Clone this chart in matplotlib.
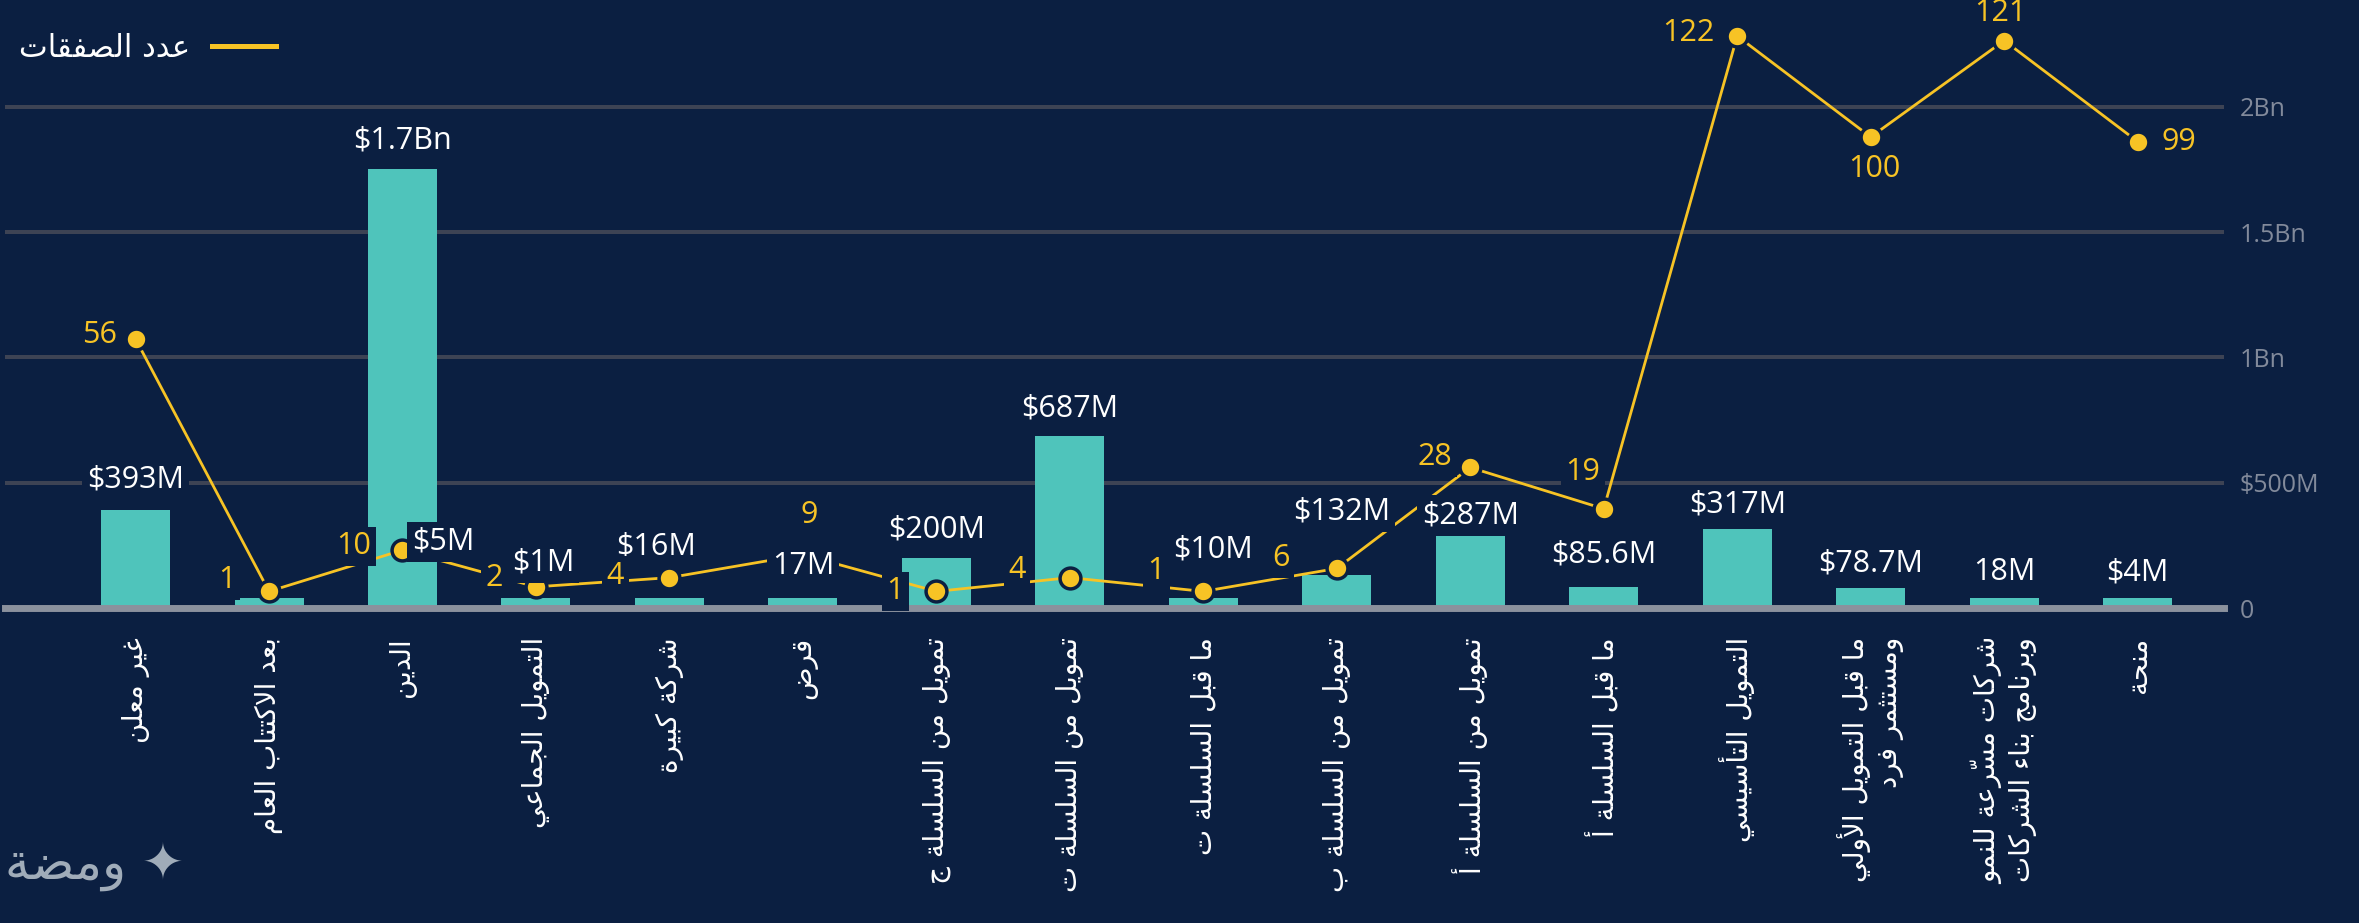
import numpy as np
import matplotlib.pyplot as plt
from matplotlib.lines import Line2D

# Arabic text has to be shaped by hand (presentation forms + visual order)
AR_FORMS = {
    'ء': (0xFE80, 1), 'آ': (0xFE81, 2), 'أ': (0xFE83, 2), 'ؤ': (0xFE85, 2), 'إ': (0xFE87, 2),
    'ئ': (0xFE89, 4), 'ا': (0xFE8D, 2), 'ب': (0xFE8F, 4), 'ة': (0xFE93, 2), 'ت': (0xFE95, 4),
    'ث': (0xFE99, 4), 'ج': (0xFE9D, 4), 'ح': (0xFEA1, 4), 'خ': (0xFEA5, 4), 'د': (0xFEA9, 2),
    'ذ': (0xFEAB, 2), 'ر': (0xFEAD, 2), 'ز': (0xFEAF, 2), 'س': (0xFEB1, 4), 'ش': (0xFEB5, 4),
    'ص': (0xFEB9, 4), 'ض': (0xFEBD, 4), 'ط': (0xFEC1, 4), 'ظ': (0xFEC5, 4), 'ع': (0xFEC9, 4),
    'غ': (0xFECD, 4), 'ف': (0xFED1, 4), 'ق': (0xFED5, 4), 'ك': (0xFED9, 4), 'ل': (0xFEDD, 4),
    'م': (0xFEE1, 4), 'ن': (0xFEE5, 4), 'ه': (0xFEE9, 4), 'و': (0xFEED, 2), 'ى': (0xFEEF, 2),
    'ي': (0xFEF1, 4),
}
LAM_ALEF = {'آ': 0xFEF5, 'أ': 0xFEF7, 'إ': 0xFEF9, 'ا': 0xFEFB}


def _nforms(ch):
    if isinstance(ch, tuple):
        return 2
    return AR_FORMS.get(ch, (None, 0))[1]


def _shape_line(s):
    clusters = []
    for ch in s:
        if '\u064b' <= ch <= '\u0652' and clusters:
            clusters[-1][1] += ch
        else:
            clusters.append([ch, ''])
    merged = []
    for c in clusters:
        if merged and merged[-1][0] == 'ل' and c[0] in LAM_ALEF:
            merged[-1] = [('LA', c[0]), merged[-1][1] + c[1]]
        else:
            merged.append(c)
    out = []
    for i, (ch, marks) in enumerate(merged):
        nf = _nforms(ch)
        if nf == 0:
            out.append(ch + marks)
            continue
        prev_join = i > 0 and _nforms(merged[i - 1][0]) == 4
        next_join = nf == 4 and i + 1 < len(merged) and _nforms(merged[i + 1][0]) >= 2
        if isinstance(ch, tuple):
            glyph = chr(LAM_ALEF[ch[1]] + (1 if prev_join else 0))
        else:
            if nf == 1:
                idx = 0
            elif prev_join and next_join:
                idx = 3
            elif next_join:
                idx = 2
            elif prev_join:
                idx = 1
            else:
                idx = 0
            glyph = chr(AR_FORMS[ch][0] + idx)
        out.append(glyph + marks)
    return ''.join(reversed(out))


def ar(text):
    return '\n'.join(_shape_line(l) for l in text.split('\n'))


# data
categories = [
    'غير معلن', 'بعد الاكتتاب العام', 'الدين', 'التمويل الجماعي', 'شركة كبيرة', 'قرض',
    'تمويل من السلسلة ج', 'تمويل من السلسلة ت', 'ما قبل السلسلة ت', 'تمويل من السلسلة ب',
    'تمويل من السلسلة أ', 'ما قبل السلسلة أ', 'التمويل التأسيسي',
    'ما قبل التمويل الأولي\nومستثمر فرد', 'شركات مسرّعة للنمو\nوبرنامج بناء الشركات', 'منحة',
]
amounts = [393e6, 5e6, 1.75e9, 1e6, 16e6, 17e6, 200e6, 687e6, 10e6, 132e6,
           287e6, 85.6e6, 317e6, 78.7e6, 18e6, 4e6]
amount_labels = ['$393M', '$5M', '$1.7Bn', '$1M', '$16M', '17M', '$200M', '$687M', '$10M',
                 '$132M', '$287M', '$85.6M', '$317M', '$78.7M', '18M', '$4M']
deal_counts = [56, 1, 10, 2, 4, 9, 1, 4, 1, 6, 28, 19, 122, 100, 121, 99]
y_ticks = [0, 0.5e9, 1e9, 1.5e9, 2e9]
y_tick_labels = ['0', '$500M', '1Bn', '1.5Bn', '2Bn']
legend_label = 'عدد الصفقات'

# label placement tweaks (pixels)
amount_label_shift = [(0, 6), (174, 32), (0, 5), (7, 11), (-13, 27), (0, 8), (0, 4), (0, 3),
                      (10, 24), (5, 39), (0, -3), (0, 8), (0, 0), (0, 1), (0, 2), (0, 1)]
count_label_offsets = [(-36, 4), (-42, 11), (-49, 4), (-42, 9), (-54, 2), (6, 40), (-41, 0),
                       (-53, 8), (-47, 20), (-56, 10), (-35, 10), (-21, 37), (-49, 3), (4, -32),
                       (-4, 28), (41, 0)]

BG = '#0b1f41'
TEAL = '#4fc4bb'
GOLD = '#f7c325'
GRID = '#3d4354'
BASE = '#8b919d'
TICK = '#828a9b'

plt.rcParams['font.family'] = ['Open Sans', 'DejaVu Sans']

W, H = 2359, 923
fig = plt.figure(figsize=(W / 100, H / 100), dpi=100, facecolor=BG)
ax = fig.add_axes([5 / W, 1 - 608 / H, (2224 - 5) / W, (608 - 10) / H])
ax.set_facecolor(BG)
ax2 = ax.twinx()

x = np.arange(len(categories))
# small bars get a minimum visible height, like the original renderer
shown = np.maximum(amounts, 40e6)
ax.bar(x, shown, width=0.517, color=TEAL, zorder=2)
ax.set_axisbelow(True)
ax.set_yticks(y_ticks[1:])
ax.grid(axis='y', color=GRID, lw=2.9)
ax.axhline(0, color=BASE, lw=5, zorder=3, clip_on=False)
ax.set_ylim(0, 598 / 250.6 * 1e9)
ax.set_xlim(-0.978, 15.647)
ax.yaxis.tick_right()
ax.set_yticks(y_ticks)
ax.set_yticklabels(y_tick_labels)
ax.tick_params(axis='y', length=0, pad=11, labelsize=18, labelcolor=TICK)
ax.set_xticks(x)
ax.set_xticklabels([ar(c) for c in categories], rotation=90, fontsize=20, color='white',
                   ha='center', va='top', multialignment='right', family='DejaVu Sans')
ax.tick_params(axis='x', length=0, pad=21)
for s in ax.spines.values():
    s.set_visible(False)

# deals line on a second axis
ax2.plot(x, deal_counts, color=GOLD, lw=2, zorder=3)
ax2.plot(x, deal_counts, 'o', ms=15, mfc=GOLD, mec=BG, mew=2.5, zorder=4)
ax2.set_ylim(-12 / 4.59, 586 / 4.59)
ax2.set_yticks([])
for s in ax2.spines.values():
    s.set_visible(False)

box = dict(boxstyle='square,pad=0.15', fc=BG, ec='none')
for i, (v, lab) in enumerate(zip(shown, amount_labels)):
    dx, lift = amount_label_shift[i]
    ax2.annotate(lab, xy=(i, v), xycoords=ax.transData, xytext=(dx, 24 + lift),
                 textcoords='offset pixels', ha='center', va='center', fontsize=22,
                 color='white', bbox=box, zorder=5)
for i, c in enumerate(deal_counts):
    dx, dy = count_label_offsets[i]
    ax2.annotate(str(c), xy=(i, c), xytext=(dx, dy), textcoords='offset pixels',
                 ha='center', va='center', fontsize=22, color=GOLD, bbox=box, zorder=5)

handle = Line2D([], [], color=GOLD, lw=3.6)
ax2.legend([handle], [ar(legend_label)], loc='upper left', markerfirst=False, frameon=False,
           bbox_to_anchor=(19 / W, 1 - 34 / H), bbox_transform=fig.transFigure,
           borderaxespad=0, borderpad=0, handlelength=2.1, handletextpad=0.72,
           prop={'family': 'DejaVu Sans', 'size': 22}, labelcolor='white')

# watermark
fig.text(5 / W, 1 - 866 / H, ar('ومضة') + ' ✦', ha='left', va='center', fontsize=36,
         color='#a0acb9', family='DejaVu Sans')

fig.savefig('out.png', dpi=100, facecolor=BG)
